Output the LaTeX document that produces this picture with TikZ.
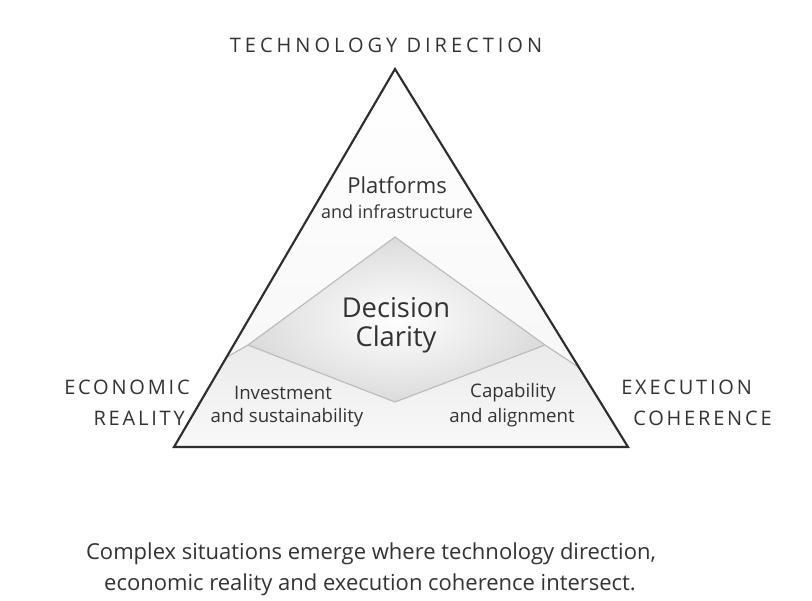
\documentclass[tikz,border=0pt]{standalone}
\usepackage{fontspec}
\setmainfont{Open Sans}
\newfontfamily\cornerfont[LetterSpace=14]{Open Sans}
\newfontfamily\titlefont[LetterSpace=20]{Open Sans}
\usetikzlibrary{calc}
\definecolor{txt}{HTML}{333333}
\definecolor{edge}{HTML}{2E2E2E}
\definecolor{kiteline}{HTML}{BDBDBD}
\tikzset{
  lbl/.style={text=txt, inner sep=0pt, align=center},
  corner/.style={lbl, font=\cornerfont\fontsize{15}{18}\selectfont},
  toptitle/.style={lbl, font=\titlefont\fontsize{15}{18}\selectfont},
  title/.style={lbl, font=\fontsize{16.5}{19}\selectfont},
  sub/.style={lbl, font=\fontsize{14}{17}\selectfont},
  big/.style={lbl, font=\fontsize{20.5}{24}\selectfont},
  captext/.style={lbl, font=\fontsize{16.5}{19}\selectfont},
}
\begin{document}
\begin{tikzpicture}[x=0.75pt,y=-0.75pt]
\useasboundingbox (0,0) rectangle (812,600);
\fill[white] (0,0) rectangle (812,600);
% key points
\coordinate (A) at (395,69);
\coordinate (L) at (174,447);
\coordinate (R) at (628,447);
\coordinate (KT) at (395,237);
\coordinate (KL) at (248,345);
\coordinate (KB) at (395,402);
\coordinate (KR) at (545,345);
\coordinate (EL) at ($(A)!0.763!(L)$);
\coordinate (ER) at ($(A)!0.79!(R)$);
% upper region
\fill[top color=white, bottom color=gray!6] (A) -- (EL) -- (KL) -- (KT) -- (KR) -- (ER) -- cycle;
% lower region
\fill[top color=gray!16, bottom color=gray!5] (EL) -- (KL) -- (KB) -- (KR) -- (ER) -- (R) -- (L) -- cycle;
% kite
\shade[inner color=white, outer color=gray!28] (KT) -- (KR) -- (KB) -- (KL) -- cycle;
\draw[kiteline, line width=0.9pt, line join=miter] (EL) -- (KL) -- (KT) -- (KR) -- (ER);
\draw[kiteline, line width=0.9pt] (KL) -- (KB) -- (KR);
% outline
\draw[edge, line width=1.6pt, line join=miter] (A) -- (R) -- (L) -- cycle;
% texts
\node[toptitle] (tech) at (386,45) {TECHNOLOGY DIRECTION};
\node[corner, anchor=east] (eco1) at (190,387) {ECONOMIC};
\node[corner, anchor=east] (eco2) at (185,418) {REALITY};
\node[corner, anchor=west] (exe1) at (621,387) {EXECUTION};
\node[corner, anchor=west] (exe2) at (633,418) {COHERENCE};
\node[title] (plat) at (397,185) {Platforms};
\node[lbl, font=\fontsize{13.5}{16}\selectfont] (plat2) at (397,212) {and infrastructure};
\node[big] (dec1) at (396,308) {Decision};
\node[big] (dec2) at (396,339) {Clarity};
\node[sub] (inv1) at (283,393) {Investment};
\node[sub] (inv2) at (287,418) {and sustainability};
\node[sub] (cap1) at (513,393) {Capability};
\node[sub] (cap2) at (512,418) {and alignment};
\node[captext] (c1) at (371,554) {Complex situations emerge where technology direction,};
\node[captext] (c2) at (370,585) {economic reality and execution coherence intersect.};
\end{tikzpicture}
\end{document}
